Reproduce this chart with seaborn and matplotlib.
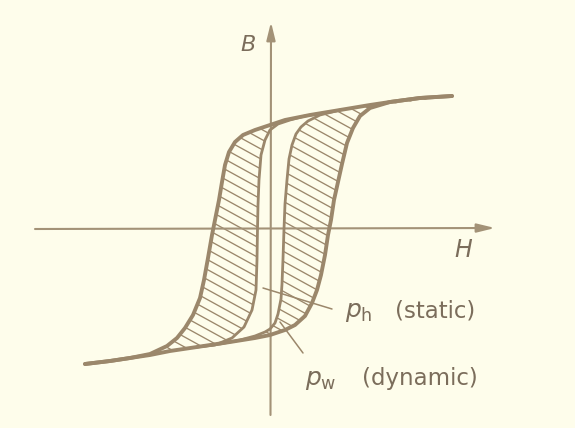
import numpy as np
import matplotlib.pyplot as plt
import seaborn as sns
from matplotlib.patches import Polygon
from matplotlib.collections import LineCollection

# Points. H to the right, B up, origin where the axes cross.
# Wide (dynamic) loop, descending branch: upper right tip -> lower left tip
dyn_down_h = [182, 150, 120, 100, 70, 40, 15, 0, -15, -27, -35, -41, -45, -48, -51, -55,
              -58, -62, -66, -70, -77, -85, -93, -103, -120, -140, -160, -185]
dyn_down_b = [133, 131, 127, 124, 119, 114, 109, 104, 99, 94, 87, 77, 64, 47, 29, 9,
              -6, -29, -51, -69, -86, -99, -109, -117, -125, -129, -132, -135]
# Wide (dynamic) loop, ascending branch: lower left tip -> upper right tip
dyn_up_h = [-185, -160, -140, -120, -100, -73, -40, -15, 0, 15, 25, 35, 42, 47, 51, 55,
            58, 61, 64, 68, 72, 77, 83, 90, 100, 120, 150, 182]
dyn_up_b = [-135, -132, -129, -126, -122, -118, -113, -109, -106, -101, -96, -87, -74, -61, -46, -26,
            -6, 9, 29, 47, 65, 86, 101, 113, 121, 127, 131, 133]
# Narrow (static) loop
stat_down_h = [60, 35, 20, 8, 0, -5, -9, -11, -12, -12.5, -13, -14, -18, -26, -38, -55, -73]
stat_down_b = [117, 113, 109, 105, 99, 89, 74, 49, 24, 0, -31, -61, -81, -98, -109, -116, -118]
stat_up_h = [-73, -50, -30, -15, -5, 0, 5, 8, 11, 12, 13, 14, 15, 17, 19, 22, 26, 31, 38, 50, 70]
stat_up_b = [-118, -115, -111, -107, -103, -100, -94, -85, -70, -55, -30, 0, 25, 49, 70, 84, 95, 102, 108, 114, 119]

# leader lines of the two labels
ph_lead_h = [-7, 62]
ph_lead_b = [-59, -80]
pw_lead_h = [10, 33]
pw_lead_b = [-93, -124]

INK = '#9b876b'
AXIS = '#a39277'
TEXT = '#7b6d5b'
PAPER = '#fefdeb'

sns.set_theme(style='white', rc={'figure.facecolor': PAPER, 'axes.facecolor': PAPER})
plt.rcParams['font.family'] = ['DejaVu Sans']
plt.rcParams['mathtext.fontset'] = 'dejavusans'

fig = plt.figure(figsize=(5.75, 4.28), dpi=100)
ax = fig.add_axes([0, 0, 1, 1])
ax.set_xlim(-270, 305)
ax.set_ylim(-199, 229)
ax.autoscale(False)
ax.axis('off')


def hatch_between(outer_h, outer_b, inner_h, inner_b):
    # slanted hatch lines clipped to the area between two branches
    pts = np.column_stack([np.r_[outer_h, inner_h[::-1]], np.r_[outer_b, inner_b[::-1]]])
    poly = Polygon(pts, closed=True, fill=False, lw=0, transform=ax.transData)
    ax.add_patch(poly)
    slope = 0.55
    segs = [[(-270, c + slope * 270), (305, c - slope * 305)] for c in np.arange(-265, 265, 10)]
    lc = LineCollection(segs, colors=INK, linewidths=0.95, zorder=1)
    ax.add_collection(lc)
    lc.set_clip_path(poly)


hatch_between(dyn_down_h, dyn_down_b, stat_down_h, stat_down_b)
hatch_between(dyn_up_h, dyn_up_b, stat_up_h, stat_up_b)

# axes with arrow heads
arrow = dict(arrowstyle='-|>,head_length=0.9,head_width=0.22', mutation_scale=12,
             color=AXIS, lw=1.5, shrinkA=0, shrinkB=0)
ax.annotate('', xy=(1, 207), xytext=(0.5, -186), arrowprops=arrow, zorder=2)
ax.annotate('', xy=(225, 1), xytext=(-235, 0), arrowprops=arrow, zorder=2)

for h, b, w in [(dyn_down_h, dyn_down_b, 2.8), (dyn_up_h, dyn_up_b, 2.8),
                (stat_down_h, stat_down_b, 2.0), (stat_up_h, stat_up_b, 2.0)]:
    sns.lineplot(x=h, y=b, sort=False, estimator=None, color=INK, lw=w,
                 solid_capstyle='round', solid_joinstyle='round', ax=ax, zorder=3)

for h, b in [(ph_lead_h, ph_lead_b), (pw_lead_h, pw_lead_b)]:
    sns.lineplot(x=h, y=b, sort=False, estimator=None, color=INK, lw=1.1, ax=ax, zorder=3)

ax.text(-22, 184, 'B', fontsize=16, style='italic', color=TEXT, ha='center', va='center')
ax.text(193, -21, 'H', fontsize=17, style='italic', color=TEXT, ha='center', va='center')

ax.text(75, -88, r'$p_\mathrm{h}$', fontsize=18, color=TEXT, ha='left', va='baseline')
ax.text(125, -88, '(static)', fontsize=16.5, color=TEXT, ha='left', va='baseline')
ax.text(35, -156, r'$p_\mathrm{w}$', fontsize=18, color=TEXT, ha='left', va='baseline')
ax.text(92, -156, '(dynamic)', fontsize=16.5, color=TEXT, ha='left', va='baseline')

fig.savefig('out.png', dpi=100, facecolor=PAPER)
